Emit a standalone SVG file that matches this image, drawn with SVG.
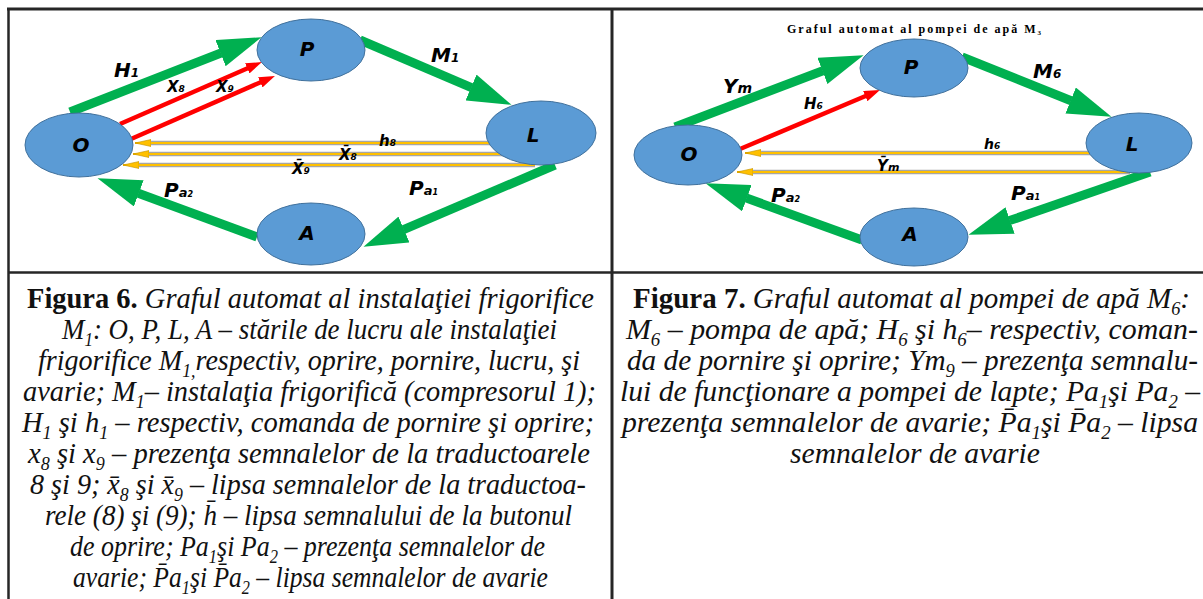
<svg xmlns="http://www.w3.org/2000/svg" width="1203" height="599" viewBox="0 0 1203 599">
<style>
.bg{fill:#ffffff}
.frame{stroke:#262626;fill:none}
.node ellipse{fill:#5B9BD5;stroke:#41719C;stroke-width:1}
.nl{font-family:"DejaVu Sans",sans-serif;font-weight:bold;font-style:italic;font-size:20px;text-anchor:middle;fill:#000}
.lbl{font-family:"DejaVu Sans",sans-serif;font-weight:bold;font-style:italic;fill:#000}
.green{stroke:#00B050;stroke-width:9;fill:none;marker-end:url(#gh)}
.red{stroke:#FF0000;stroke-width:4.5;fill:none;marker-end:url(#rh)}
.ybg{stroke:#A6A6A6;stroke-width:4.5;fill:none}
.yfg{stroke:#FFC000;stroke-width:2;fill:none;marker-end:url(#yh)}
.cap{font-family:"Liberation Serif","Times New Roman",serif;font-style:italic;font-size:30px;fill:#111}
.capb{font-weight:bold;font-style:normal}
.sub{font-size:19px}
.title{font-family:"Liberation Serif","Times New Roman",serif;font-weight:bold;font-size:12px;fill:#000}
</style>
<defs>
<marker id="gh" markerUnits="userSpaceOnUse" viewBox="0 0 44 28" markerWidth="44" markerHeight="28" refX="0.5" refY="14" orient="auto"><path d="M0,0 L44,14 L0,28 z" fill="#00B050"/></marker>
<marker id="rh" markerUnits="userSpaceOnUse" viewBox="0 0 16 11" markerWidth="16" markerHeight="11" refX="1" refY="5.5" orient="auto"><path d="M0,0 L16,5.5 L0,11 z" fill="#FF0000"/></marker>
<marker id="yh" markerUnits="userSpaceOnUse" viewBox="0 0 16 8" markerWidth="16" markerHeight="8" refX="16" refY="4" orient="auto"><path d="M0,0.5 L16,4 L0,7.5 z" fill="#FFC000" stroke="#BF9000" stroke-width="0.6"/></marker>
</defs>
<rect class="bg" x="0" y="0" width="1203" height="599"/>
<g id="frame" class="frame">
<line x1="7" y1="9" x2="1203" y2="9" stroke-width="3"/>
<line x1="8.5" y1="8" x2="8.5" y2="599" stroke-width="2.5"/>
<line x1="612" y1="8" x2="612" y2="599" stroke-width="3"/>
<line x1="8" y1="272.5" x2="1203" y2="272.5" stroke-width="2.5"/>
</g>
<g id="connectors">
<line class="green" x1="70" y1="112" x2="221" y2="53"/>
<line class="green" x1="360" y1="40" x2="471.5" y2="87.7"/>
<line class="green" x1="555" y1="165" x2="403.5" y2="229.7"/>
<line class="green" x1="257" y1="237" x2="138.3" y2="193.2"/>
<line class="red" x1="120" y1="124" x2="248.2" y2="68"/>
<line class="red" x1="131" y1="139" x2="261.2" y2="82"/>
<line class="ybg" x1="500" y1="143" x2="149" y2="143"/>
<line class="yfg" x1="500" y1="143" x2="135" y2="143"/>
<line class="ybg" x1="510" y1="154" x2="147" y2="154"/>
<line class="yfg" x1="510" y1="154" x2="133" y2="154"/>
<line class="ybg" x1="535" y1="165" x2="137" y2="165"/>
<line class="yfg" x1="535" y1="165" x2="123" y2="165"/>
<line class="green" x1="675" y1="127" x2="822.9" y2="70.7"/>
<line class="green" x1="962" y1="57" x2="1071.1" y2="100.7"/>
<line class="green" x1="1150" y1="172" x2="1009.6" y2="220.6"/>
<line class="green" x1="862" y1="240" x2="746.4" y2="198"/>
<line class="red" x1="740" y1="149" x2="866.2" y2="95.8"/>
<line class="ybg" x1="1100" y1="153" x2="759" y2="153"/>
<line class="yfg" x1="1100" y1="153" x2="745" y2="153"/>
<line class="ybg" x1="1130" y1="172" x2="751" y2="172"/>
<line class="yfg" x1="1130" y1="172" x2="737" y2="172"/>
</g>
<g id="f6-O" class="node"><ellipse cx="79" cy="145" rx="54" ry="32"/><text class="nl" x="81" y="152">O</text></g>
<g id="f6-P" class="node"><ellipse cx="311" cy="50" rx="54" ry="31"/><text class="nl" x="307" y="56">P</text></g>
<g id="f6-L" class="node"><ellipse cx="541" cy="133" rx="55" ry="32"/><text class="nl" x="533" y="142">L</text></g>
<g id="f6-A" class="node"><ellipse cx="311" cy="234" rx="54" ry="31"/><text class="nl" x="307" y="240">A</text></g>
<g id="f7-O" class="node"><ellipse cx="688" cy="155" rx="54" ry="30"/><text class="nl" x="689" y="161">O</text></g>
<g id="f7-P" class="node"><ellipse cx="914" cy="68" rx="54" ry="29"/><text class="nl" x="911" y="74">P</text></g>
<g id="f7-L" class="node"><ellipse cx="1139" cy="143" rx="53" ry="30"/><text class="nl" x="1132" y="151">L</text></g>
<g id="f7-A" class="node"><ellipse cx="914" cy="237" rx="54" ry="29"/><text class="nl" x="910" y="241">A</text></g>
<g id="labels">
<text class="lbl" x="114" y="77" font-size="20">H<tspan font-size="12">1</tspan></text>
<text class="lbl" x="167" y="92" font-size="15">X<tspan font-size="9">8</tspan></text>
<text class="lbl" x="216" y="92" font-size="15">X<tspan font-size="9">9</tspan></text>
<text class="lbl" x="431" y="62" font-size="20">M<tspan font-size="12">1</tspan></text>
<text class="lbl" x="379" y="146" font-size="15">h<tspan font-size="9">8</tspan></text>
<text class="lbl" x="339" y="160" font-size="15">X̄<tspan font-size="9">8</tspan></text>
<text class="lbl" x="292" y="174" font-size="15">X̄<tspan font-size="9">9</tspan></text>
<text class="lbl" x="409" y="195" font-size="20">P<tspan font-size="13">a</tspan><tspan font-size="8">1</tspan></text>
<text class="lbl" x="164" y="197" font-size="20">P<tspan font-size="13">a</tspan><tspan font-size="8">2</tspan></text>
<text class="title" x="787" y="33" textLength="254" lengthAdjust="spacing">Graful automat al pompei de apă M<tspan font-size="7" dy="2">3</tspan></text>
<text class="lbl" x="723" y="93" font-size="20">Y<tspan font-size="14">m</tspan></text>
<text class="lbl" x="804" y="109" font-size="15">H<tspan font-size="9">6</tspan></text>
<text class="lbl" x="1033" y="78" font-size="20">M<tspan font-size="12">6</tspan></text>
<text class="lbl" x="984" y="149" font-size="14">h<tspan font-size="9">6</tspan></text>
<text class="lbl" x="877" y="171" font-size="15">Ȳ<tspan font-size="11">m</tspan></text>
<text class="lbl" x="1011" y="200" font-size="20">P<tspan font-size="13">a</tspan><tspan font-size="8">1</tspan></text>
<text class="lbl" x="771" y="202" font-size="20">P<tspan font-size="13">a</tspan><tspan font-size="8">2</tspan></text>
</g>
<g id="caption6" class="cap">
<text x="27" y="308" textLength="567" lengthAdjust="spacingAndGlyphs"><tspan class="capb">Figura 6.</tspan> Graful automat al instalaţiei frigorifice</text>
<text x="62" y="339" textLength="495" lengthAdjust="spacingAndGlyphs">M<tspan class="sub" dy="7">1</tspan><tspan dy="-7">: O, P, L, A – stările de lucru ale instalaţiei</tspan></text>
<text x="38" y="370" textLength="542" lengthAdjust="spacingAndGlyphs">frigorifice M<tspan class="sub" dy="7">1,</tspan><tspan dy="-7">respectiv, oprire, pornire, lucru, şi</tspan></text>
<text x="23" y="401" textLength="573" lengthAdjust="spacingAndGlyphs">avarie; M<tspan class="sub" dy="7">1</tspan><tspan dy="-7">– instalaţia frigorifică (compresorul 1);</tspan></text>
<text x="22" y="432" textLength="572" lengthAdjust="spacingAndGlyphs">H<tspan class="sub" dy="7">1</tspan><tspan dy="-7"> şi h</tspan><tspan class="sub" dy="7">1</tspan><tspan dy="-7"> – respectiv, comanda de pornire şi oprire;</tspan></text>
<text x="28" y="463" textLength="562" lengthAdjust="spacingAndGlyphs">x<tspan class="sub" dy="7">8</tspan><tspan dy="-7"> şi x</tspan><tspan class="sub" dy="7">9</tspan><tspan dy="-7"> – prezenţa semnalelor de la traductoarele</tspan></text>
<text x="30" y="494" textLength="556" lengthAdjust="spacingAndGlyphs">8 şi 9; x̄<tspan class="sub" dy="7">8</tspan><tspan dy="-7"> şi x̄</tspan><tspan class="sub" dy="7">9</tspan><tspan dy="-7"> – lipsa semnalelor de la traductoa-</tspan></text>
<text x="45" y="525" textLength="527" lengthAdjust="spacingAndGlyphs">rele (8) şi (9); h̄ – lipsa semnalului de la butonul</text>
<text x="70" y="556" textLength="475" lengthAdjust="spacingAndGlyphs">de oprire; Pa<tspan class="sub" dy="7">1</tspan><tspan dy="-7">şi Pa</tspan><tspan class="sub" dy="7">2</tspan><tspan dy="-7">  – prezenţa semnalelor de</tspan></text>
<text x="73" y="587" textLength="475" lengthAdjust="spacingAndGlyphs">avarie; P̄a<tspan class="sub" dy="7">1</tspan><tspan dy="-7">şi P̄a</tspan><tspan class="sub" dy="7">2</tspan><tspan dy="-7"> – lipsa semnalelor de avarie</tspan></text>
</g>
<g id="caption7" class="cap">
<text x="633" y="308" textLength="557" lengthAdjust="spacingAndGlyphs"><tspan class="capb">Figura 7.</tspan> Graful automat al pompei de apă M<tspan class="sub" dy="7">6</tspan><tspan dy="-7">:</tspan></text>
<text x="626" y="339" textLength="572" lengthAdjust="spacingAndGlyphs">M<tspan class="sub" dy="7">6</tspan><tspan dy="-7"> – pompa de apă; H</tspan><tspan class="sub" dy="7">6</tspan><tspan dy="-7"> şi h</tspan><tspan class="sub" dy="7">6</tspan><tspan dy="-7">– respectiv, coman-</tspan></text>
<text x="627" y="370" textLength="571" lengthAdjust="spacingAndGlyphs">da de pornire şi oprire; Ym<tspan class="sub" dy="7">9</tspan><tspan dy="-7"> – prezenţa semnalu-</tspan></text>
<text x="620" y="401" textLength="580" lengthAdjust="spacingAndGlyphs">lui de funcţionare a pompei de lapte; Pa<tspan class="sub" dy="7">1</tspan><tspan dy="-7">şi Pa</tspan><tspan class="sub" dy="7">2</tspan><tspan dy="-7"> –</tspan></text>
<text x="622" y="432" textLength="576" lengthAdjust="spacingAndGlyphs">prezenţa semnalelor de avarie; P̄a<tspan class="sub" dy="7">1</tspan><tspan dy="-7">şi P̄a</tspan><tspan class="sub" dy="7">2</tspan><tspan dy="-7"> – lipsa</tspan></text>
<text x="790" y="463" textLength="250" lengthAdjust="spacingAndGlyphs">semnalelor de avarie</text>
</g>
</svg>
